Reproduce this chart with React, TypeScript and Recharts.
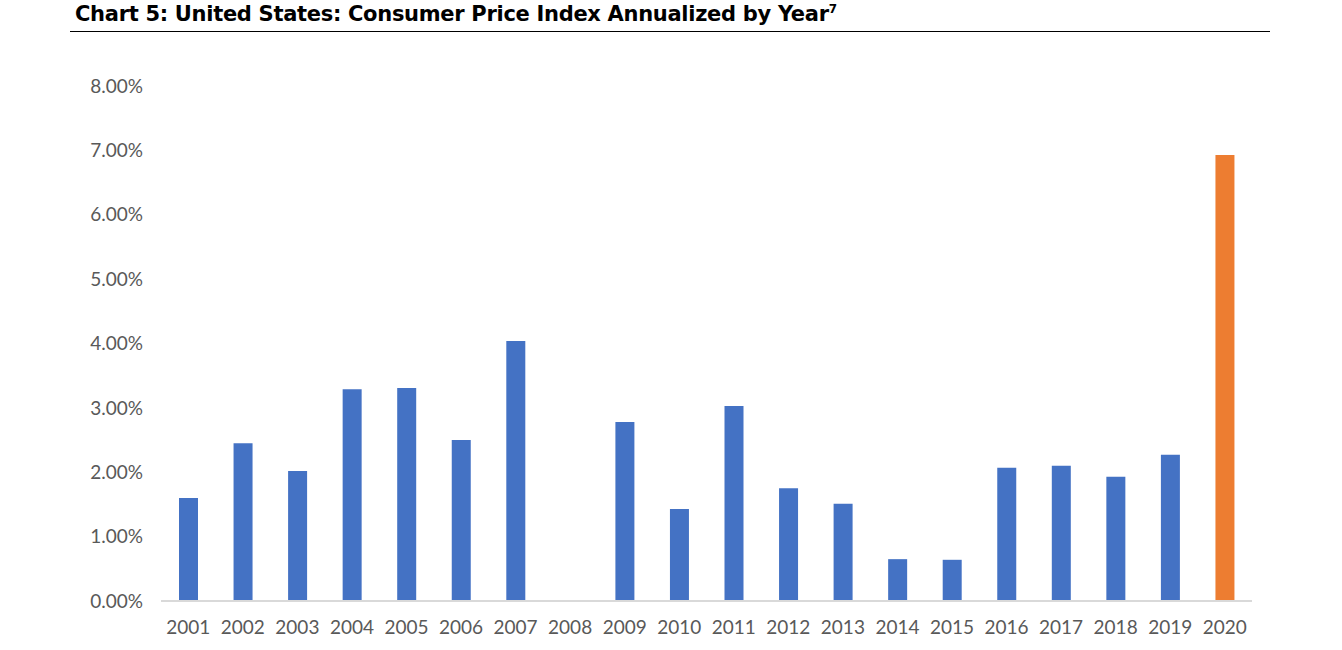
import { BarChart, Bar, XAxis, YAxis, Cell } from 'recharts';

// years on the x axis
const YEARS = [
  '2001', '2002', '2003', '2004', '2005', '2006', '2007', '2008', '2009', '2010',
  '2011', '2012', '2013', '2014', '2015', '2016', '2017', '2018', '2019', '2020',
];

// annualized CPI, in percent
const CPI = [
  1.60, 2.45, 2.02, 3.29, 3.31, 2.50, 4.04, 0, 2.78, 1.43,
  3.03, 1.75, 1.51, 0.65, 0.64, 2.07, 2.10, 1.93, 2.27, 6.93,
];

const Y_TICKS = [0, 1, 2, 3, 4, 5, 6, 7, 8];

const BLUE = '#4472c4';
const ORANGE = '#ed7d31';

const data = YEARS.map((year, i) => ({ year, value: CPI[i] }));

const tickStyle = { fill: '#595959', fontSize: 19, fontFamily: 'Lato, sans-serif' };

export default function App() {
  return (
    <div style={{ position: 'absolute', left: 0, top: 0, width: 1342, height: 650, background: '#fff' }}>
      <div
        style={{
          position: 'absolute',
          left: 75,
          top: 2,
          fontFamily: '"DejaVu Sans", sans-serif',
          fontWeight: 700,
          fontSize: 21,
          color: '#000',
          whiteSpace: 'nowrap',
          letterSpacing: -0.3,
        }}
      >
        Chart 5: United States: Consumer Price Index Annualized by Year
        <sup style={{ fontSize: 12 }}>7</sup>
      </div>
      <div
        style={{
          position: 'absolute',
          left: 70,
          top: 31,
          width: 1200,
          height: 1,
          background: '#000',
        }}
      />
      <div style={{ position: 'absolute', left: 0, top: 0 }}>
        <BarChart
          width={1342}
          height={650}
          data={data}
          margin={{ top: 86, right: 90, bottom: 9, left: 0 }}
          barCategoryGap="33%"
        >
          <XAxis
            dataKey="year"
            tickLine={false}
            axisLine={{ stroke: '#d9d9d9', strokeWidth: 2 }}
            tick={tickStyle}
            tickMargin={14}
            height={40}
            interval={0}
          />
          <YAxis
            domain={[0, 8]}
            ticks={Y_TICKS}
            tickLine={false}
            axisLine={false}
            tickSize={0}
            tickMargin={18}
            width={161}
            tick={tickStyle}
            tickFormatter={(v: number) => `${v.toFixed(2)}%`}
          />
          <Bar dataKey="value" isAnimationActive={false}>
            {data.map((d, i) => (
              <Cell key={d.year} fill={i === data.length - 1 ? ORANGE : BLUE} />
            ))}
          </Bar>
        </BarChart>
      </div>
    </div>
  );
}
